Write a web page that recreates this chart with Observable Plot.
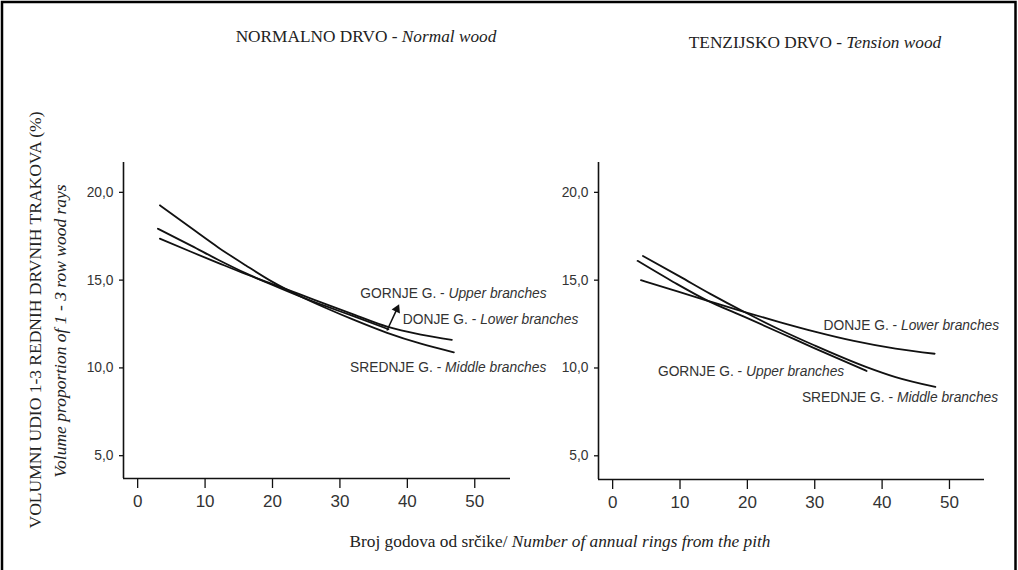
<!DOCTYPE html>
<html><head><meta charset="utf-8">
<script src="https://cdn.jsdelivr.net/npm/d3@7"></script>
<script src="https://cdn.jsdelivr.net/npm/@observablehq/plot@0.6"></script>
<style>
html,body{margin:0;padding:0;background:#fff;}
#wrap{position:relative;width:1018px;height:570px;overflow:hidden;background:#fff;}
#wrap > *{position:absolute;top:0;}
</style></head><body><div id="wrap"></div>
<script>
// ---- Normal wood (left panel) ----
const normalUpperX  = [3.0, 8, 12, 16, 20, 24, 28, 32, 37.2];
const normalUpperY  = [17.93, 16.95, 16.15, 15.4, 14.72, 14.08, 13.5, 12.95, 12.2];
const normalMiddleX = [3.3, 8, 12, 16, 20, 24, 28, 32, 37, 42, 46.9];
const normalMiddleY = [19.26, 17.95, 16.85, 15.85, 14.9, 14.1, 13.4, 12.75, 12.0, 11.38, 10.89];
const normalLowerX  = [3.3, 8, 12, 16, 20, 24, 28, 32, 37, 42, 46.6];
const normalLowerY  = [17.36, 16.6, 15.97, 15.35, 14.77, 14.2, 13.62, 13.05, 12.35, 11.9, 11.6];

// ---- Tension wood (right panel) ----
const tensionUpperX  = [3.7, 9, 14, 19.5, 25, 30, 37.7];
const tensionUpperY  = [16.1, 14.9, 13.85, 12.92, 11.98, 11.12, 9.83];
const tensionMiddleX = [4.5, 10, 14.5, 19.5, 25, 30, 37.7, 42, 47.9];
const tensionMiddleY = [16.38, 15.2, 14.22, 13.2, 12.15, 11.28, 10.05, 9.48, 8.92];
const tensionLowerX  = [4.2, 9, 14, 19.5, 24.9, 30, 35.8, 42, 47.8];
const tensionLowerY  = [15.0, 14.43, 13.84, 13.2, 12.6, 12.07, 11.54, 11.1, 10.81];

// ---- ticks & texts ----
const xTicks = [0, 10, 20, 30, 40, 50];
const yTicks = [5, 10, 15, 20];
const seriesNames = ["GORNJE G.", "SREDNJE G.", "DONJE G."];
const seriesEnglish = ["Upper branches", "Middle branches", "Lower branches"];
const panelTitles = [["NORMALNO DRVO - ", "Normal wood"], ["TENZIJSKO DRVO - ", "Tension wood"]];
const yTitle1 = "VOLUMNI UDIO 1-3 REDNIH DRVNIH TRAKOVA (%)";
const yTitle2 = "Volume proportion of 1 - 3 row wood rays";
const xTitle = ["Broj godova od srčike/ ", "Number of annual rings from the pith"];

// label anchor (x where italic part begins, y centre) per series, in data units
const normalLabelX = [46.1, 45.6, 50.8];
const normalLabelY = [14.25, 10.04, 12.76];
const tensionLabelX = [19.8, 42.2, 42.8];
const tensionLabelY = [9.82, 8.34, 12.42];
// arrow in left panel (from end of upper-branch curve toward its label)
const arrowFrom = [36.98, 12.13];
const arrowTo = [38.45, 13.35];

const toRows = (name, xs, ys) => xs.map((x, i) => ({series: name, x, y: ys[i]}));
const normalData = [
  ...toRows(seriesNames[0], normalUpperX, normalUpperY),
  ...toRows(seriesNames[1], normalMiddleX, normalMiddleY),
  ...toRows(seriesNames[2], normalLowerX, normalLowerY)
];
const tensionData = [
  ...toRows(seriesNames[0], tensionUpperX, tensionUpperY),
  ...toRows(seriesNames[1], tensionMiddleX, tensionMiddleY),
  ...toRows(seriesNames[2], tensionLowerX, tensionLowerY)
];
const labelRows = (lx, ly) => seriesNames.map((s, i) => ({prefix: s + " -", italic: seriesEnglish[i], x: lx[i], y: ly[i]}));

const SANS = "'Liberation Sans', Arial, Helvetica, sans-serif";
const NARROW = "'Liberation Sans Narrow', 'Arial Narrow', 'Liberation Sans', Arial, sans-serif";
const SERIF = "'Liberation Serif', 'Times New Roman', Times, serif";
const fmt = d => d.toFixed(1).replace(".", ",");

function panel(data, labels, opts) {
  const marks = [
    Plot.ruleX([opts.xd[0]], {stroke: "#111", strokeWidth: 1.6}),
    Plot.ruleY([opts.yd[0]], {stroke: "#111", strokeWidth: 1.6}),
    Plot.axisY({ticks: yTicks, tickFormat: fmt, tickSize: 4, tickPadding: 6, fontSize: 13.8,
      fontFamily: SANS, fill: "#333", stroke: "#111", strokeWidth: 1.3, label: null}),
    Plot.axisX({ticks: xTicks, tickFormat: d => String(d), tickSize: 10, tickPadding: 6, fontSize: 17,
      fontFamily: NARROW, fill: "#333", stroke: "#111", strokeWidth: 1.3, label: null}),
    Plot.line(data, {x: "x", y: "y", z: "series", curve: "monotone-x", stroke: "#111", strokeWidth: 1.8}),
    Plot.text(labels, {x: "x", y: "y", text: "prefix", textAnchor: "end", dx: -3.8, fontSize: 13.8,
      fontFamily: SANS, fill: "#333"}),
    Plot.text(labels, {x: "x", y: "y", text: "italic", textAnchor: "start", fontSize: 13.8,
      fontStyle: "italic", fontFamily: SANS, fill: "#333"})
  ];
  if (opts.arrow) {
    marks.push(Plot.link([opts.arrow], {x1: d => d[0][0], y1: d => d[0][1], x2: d => d[1][0], y2: d => d[1][1],
      stroke: "#111", strokeWidth: 1.5}));
    marks.push(Plot.dot([opts.arrow[1]], {x: d => d[0], y: d => d[1], symbol: "triangle", r: 3.4,
      rotate: 25, fill: "#111", stroke: "none"}));
  }
  return Plot.plot({
    width: opts.width, height: 570,
    marginLeft: opts.ml, marginRight: opts.mr, marginTop: 162, marginBottom: opts.mb,
    x: {domain: opts.xd}, y: {domain: opts.yd},
    style: {fontFamily: SANS, background: "transparent", overflow: "visible", color: "#111"},
    marks
  });
}

const wrap = document.getElementById("wrap");
const left = panel(normalData, labelRows(normalLabelX, normalLabelY),
  {width: 560, ml: 123, mr: 50, mb: 92, xd: [-2.1, 55.3], yd: [3.7, 21.7], arrow: [arrowFrom, arrowTo]});
left.style.left = "0px";
wrap.appendChild(left);
const right = panel(tensionData, labelRows(tensionLabelX, tensionLabelY),
  {width: 458, ml: 38, mr: 34, mb: 91, xd: [-2.1, 55.2], yd: [3.65, 21.7]});
right.style.left = "560px";
wrap.appendChild(right);

// overlay: titles, axis titles and frame
const ns = "http://www.w3.org/2000/svg";
const ov = document.createElementNS(ns, "svg");
ov.setAttribute("width", 1018); ov.setAttribute("height", 570);
ov.style.left = "0px"; ov.style.pointerEvents = "none";
wrap.appendChild(ov);
function mk(tag, attrs, parent) {
  const e = document.createElementNS(ns, tag);
  for (const k in attrs) e.setAttribute(k, attrs[k]);
  (parent || ov).appendChild(e); return e;
}
function twoPart(parts, attrs) {
  const t = mk("text", Object.assign({"font-family": SERIF, "font-size": 17.3, fill: "#222",
    "text-anchor": "middle", "xml:space": "preserve"}, attrs));
  const a = mk("tspan", {}, t); a.textContent = parts[0];
  const b = mk("tspan", {"font-style": "italic"}, t); b.textContent = parts[1];
  return t;
}
mk("rect", {x: 2, y: 2, width: 1013.5, height: 600, fill: "none", stroke: "#000", "stroke-width": 2.5});
twoPart(panelTitles[0], {x: 366, y: 42});
twoPart(panelTitles[1], {x: 815, y: 48});
twoPart(xTitle, {x: 560, y: 547});
const t1 = mk("text", {transform: "translate(41,320) rotate(-90)", "text-anchor": "middle",
  "font-family": SERIF, "font-size": 17.5, fill: "#222"});
t1.textContent = yTitle1;
const t2 = mk("text", {transform: "translate(66,331) rotate(-90)", "text-anchor": "middle",
  "font-family": SERIF, "font-size": 17.5, "font-style": "italic", fill: "#222"});
t2.textContent = yTitle2;
</script></body></html>
